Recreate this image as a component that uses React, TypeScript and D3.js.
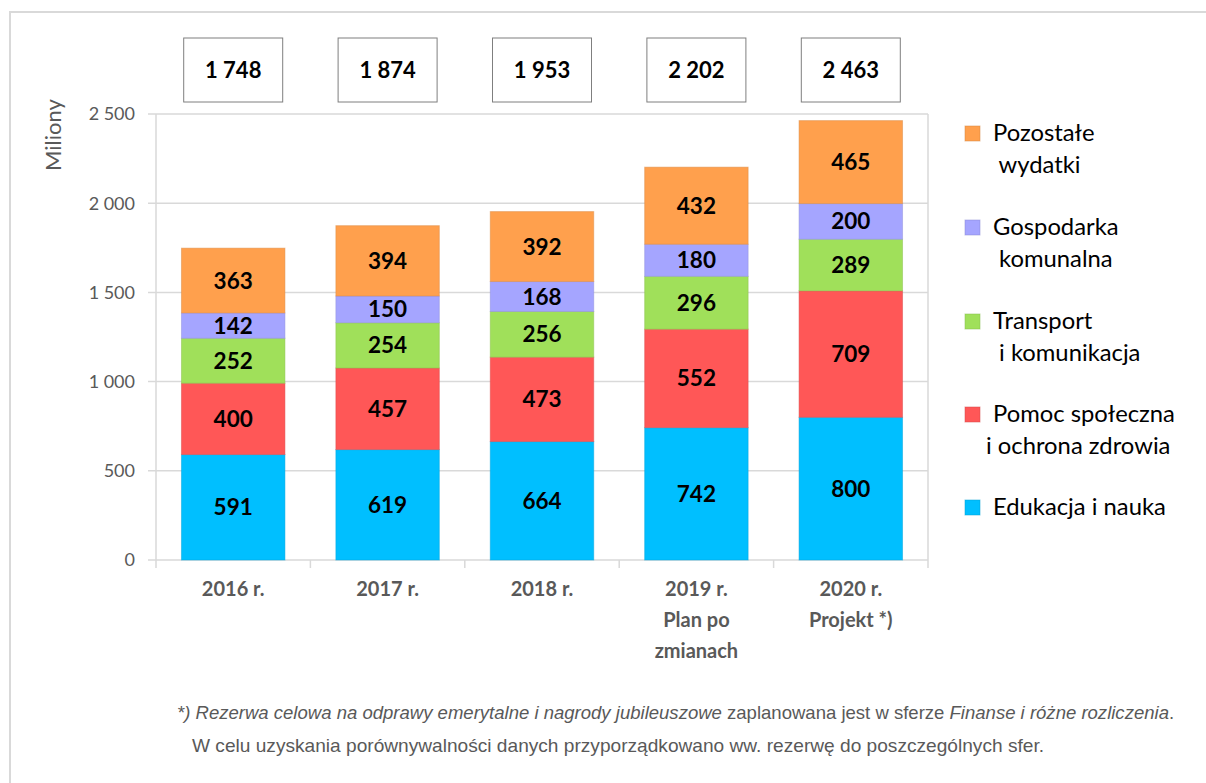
import { useEffect, useRef } from "react";
import * as d3 from "d3";

// categories and stacked series (millions)
const years = ["2016 r.", "2017 r.", "2018 r.", "2019 r.", "2020 r."];
const yearLabels = [["2016 r."], ["2017 r."], ["2018 r."], ["2019 r.", "Plan po", "zmianach"], ["2020 r.", "Projekt *)"]];
const edukacja = [591, 619, 664, 742, 800];
const pomoc = [400, 457, 473, 552, 709];
const transport = [252, 254, 256, 296, 289];
const gospodarka = [142, 150, 168, 180, 200];
const pozostale = [363, 394, 392, 432, 465];
const totals = ["1 748", "1 874", "1 953", "2 202", "2 463"];
const yTicks = [0, 500, 1000, 1500, 2000, 2500];

const seriesColors = ["#00BFFF", "#FF5757", "#A0E05A", "#A5A5FF", "#FFA04D"];
const legendLines = [
  ["Pozostałe", " wydatki"],
  ["Gospodarka", " komunalna"],
  ["Transport", " i komunikacja"],
  ["Pomoc społeczna", "i ochrona zdrowia"],
  ["Edukacja i nauka"],
];

export default function App() {
  const ref = useRef<SVGSVGElement>(null);

  useEffect(() => {
    if (!ref.current) return;
    const width = 1206,
      height = 783;
    const svg = d3.select(ref.current).attr("width", width).attr("height", height);
    svg.selectAll("*").remove();

    const font = "Lato, 'Open Sans', sans-serif";
    const gray = "#595959";

    // outer frame
    svg
      .append("rect")
      .attr("x", 10)
      .attr("y", 12)
      .attr("width", 1220)
      .attr("height", 800)
      .attr("fill", "white")
      .attr("stroke", "#d9d9d9")
      .attr("stroke-width", 2);

    const plot = { left: 156, right: 928, top: 114, bottom: 560 };

    const x = d3.scaleBand().domain(years).range([plot.left, plot.right]).paddingInner(0.33).paddingOuter(0.165);
    const xOuter = d3.scaleBand().domain(years).range([plot.left, plot.right]);
    const y = d3.scaleLinear().domain([0, 2500]).range([plot.bottom, plot.top]);

    // gridlines
    svg
      .append("g")
      .selectAll("line")
      .data(yTicks)
      .enter()
      .append("line")
      .attr("x1", plot.left - 8)
      .attr("x2", plot.right)
      .attr("y1", (d) => y(d))
      .attr("y2", (d) => y(d))
      .attr("stroke", "#d9d9d9")
      .attr("stroke-width", 1.5);

    // plot right border + left axis
    svg.append("line").attr("x1", plot.right).attr("x2", plot.right).attr("y1", plot.top).attr("y2", plot.bottom + 8).attr("stroke", "#d9d9d9").attr("stroke-width", 1.5);
    svg.append("line").attr("x1", plot.left).attr("x2", plot.left).attr("y1", plot.top).attr("y2", plot.bottom + 8).attr("stroke", "#d9d9d9").attr("stroke-width", 1.5);

    // category boundary ticks
    svg
      .append("g")
      .selectAll("line")
      .data(years.slice(1))
      .enter()
      .append("line")
      .attr("x1", (d) => xOuter(d)!)
      .attr("x2", (d) => xOuter(d)!)
      .attr("y1", plot.bottom)
      .attr("y2", plot.bottom + 8)
      .attr("stroke", "#d9d9d9")
      .attr("stroke-width", 1.5);

    // y tick labels
    svg
      .append("g")
      .selectAll("text")
      .data(yTicks)
      .enter()
      .append("text")
      .attr("x", 135)
      .attr("y", (d) => y(d))
      .attr("dy", "0.35em")
      .attr("text-anchor", "end")
      .style("font-family", font)
      .style("font-size", "18px")
      .style("fill", gray)
      .text((d) => d3.format(",")(d).replace(",", " "));

    svg
      .append("text")
      .attr("transform", "translate(61,135) rotate(-90)")
      .attr("text-anchor", "middle")
      .style("font-family", font)
      .style("font-size", "22px")
      .style("fill", gray)
      .text("Miliony");

    // stack
    const rows = years.map((yr, i) => ({
      year: yr,
      s0: edukacja[i],
      s1: pomoc[i],
      s2: transport[i],
      s3: gospodarka[i],
      s4: pozostale[i],
    }));
    const stack = d3.stack<any>().keys(["s0", "s1", "s2", "s3", "s4"])(rows);

    stack.forEach((layer, li) => {
      const g = svg.append("g");
      g.selectAll("rect")
        .data(layer)
        .enter()
        .append("rect")
        .attr("x", (d) => x(d.data.year)!)
        .attr("width", x.bandwidth())
        .attr("y", (d) => y(d[1]))
        .attr("height", (d) => y(d[0]) - y(d[1]))
        .attr("fill", seriesColors[li])
        .attr("stroke", d3.color(seriesColors[li])!.darker(0.4).toString())
        .attr("stroke-opacity", 0.5)
        .attr("stroke-width", 1);
      g.selectAll("text")
        .data(layer)
        .enter()
        .append("text")
        .attr("x", (d) => x(d.data.year)! + x.bandwidth() / 2)
        .attr("y", (d) => (y(d[0]) + y(d[1])) / 2)
        .attr("dy", "0.36em")
        .attr("text-anchor", "middle")
        .style("font-family", font)
        .style("font-weight", "bold")
        .style("font-size", "22.5px")
        .style("fill", "#000")
        .text((d) => d[1] - d[0]);
    });

    // totals boxes
    const tb = svg.append("g");
    years.forEach((yr, i) => {
      const cx = x(yr)! + x.bandwidth() / 2;
      tb.append("rect")
        .attr("x", cx - 49.5)
        .attr("y", 38)
        .attr("width", 99)
        .attr("height", 64)
        .attr("fill", "white")
        .attr("stroke", "#7f7f7f")
        .attr("stroke-width", 1);
      tb.append("text")
        .attr("x", cx)
        .attr("y", 70)
        .attr("dy", "0.36em")
        .attr("text-anchor", "middle")
        .style("font-family", font)
        .style("font-weight", "bold")
        .style("font-size", "22px")
        .style("fill", "#000")
        .text(totals[i]);
    });

    // category labels
    years.forEach((yr, i) => {
      const cx = x(yr)! + x.bandwidth() / 2;
      const t = svg
        .append("text")
        .attr("text-anchor", "middle")
        .style("font-family", font)
        .style("font-weight", "bold")
        .style("font-size", "20px")
        .style("fill", gray);
      yearLabels[i].forEach((line, j) => {
        t.append("tspan").attr("x", cx).attr("y", 596 + j * 31).text(line);
      });
    });

    // legend
    const legendY = [133, 227, 321, 414, 507];
    legendLines.forEach((lines, i) => {
      const color = seriesColors[4 - i];
      svg
        .append("rect")
        .attr("x", 965)
        .attr("y", legendY[i] - 7)
        .attr("width", 15)
        .attr("height", 15)
        .attr("fill", color)
        .attr("stroke", d3.color(color)!.darker(0.5).toString())
        .attr("stroke-opacity", 0.5);
      const t = svg
        .append("text")
        .style("font-family", font)
        .style("font-size", "23.8px")
        .style("fill", "#000")
        .attr("xml:space", "preserve");
      lines.forEach((line, j) => {
        t.append("tspan")
          .attr("x", j === 0 ? 993 : i === 3 ? 986 : 993)
          .attr("y", legendY[i] + j * 32)
          .attr("dy", "0.35em")
          .style("white-space", "pre")
          .text(line);
      });
    });

    // footnote
    const fn = svg
      .append("text")
      .attr("x", 177)
      .attr("y", 719)
      .style("font-family", "'Liberation Sans', Arial, sans-serif")
      .style("font-size", "18.55px")
      .style("fill", gray);
    fn.append("tspan").style("font-style", "italic").text("*) Rezerwa celowa na odprawy emerytalne i nagrody jubileuszowe");
    fn.append("tspan").text(" zaplanowana jest w sferze ");
    fn.append("tspan").style("font-style", "italic").text("Finanse i różne rozliczenia");
    fn.append("tspan").text(".");

    svg
      .append("text")
      .attr("x", 192)
      .attr("y", 752)
      .attr("textLength", 852)
      .attr("lengthAdjust", "spacingAndGlyphs")
      .style("font-family", "'Liberation Sans', Arial, sans-serif")
      .style("font-size", "18.2px")
      .style("fill", gray)
      .text("W celu uzyskania porównywalności danych przyporządkowano ww. rezerwę do poszczególnych sfer.");
  }, []);

  return <svg ref={ref} style={{ position: "absolute", left: 0, top: 0, display: "block" }} />;
}
